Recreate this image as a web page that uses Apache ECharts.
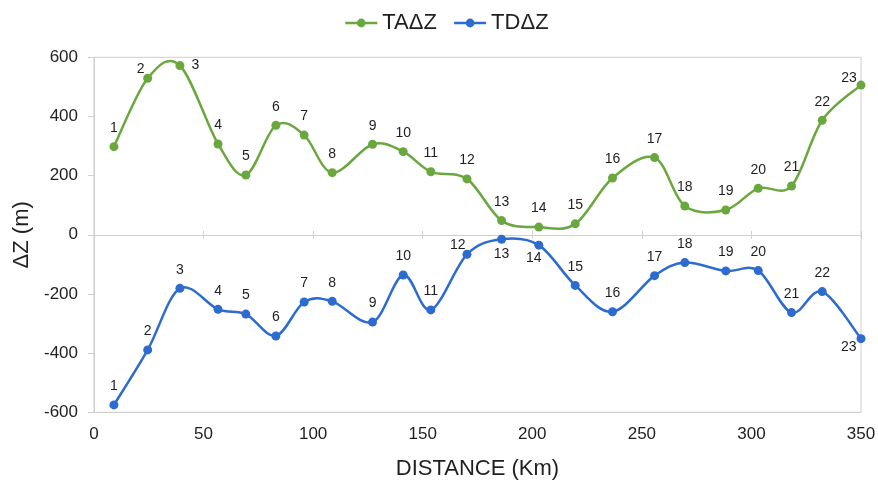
<!DOCTYPE html>
<html>
<head>
<meta charset="utf-8">
<script src="https://cdn.jsdelivr.net/npm/echarts@6/dist/echarts.min.js"></script>
<style>
  html, body { margin: 0; padding: 0; background: #ffffff; }
  #chart { width: 878px; height: 481px; }
</style>
</head>
<body>
<div id="chart"></div>
<script>
// Station numbers shown beside each point
const pointIds = [1, 2, 3, 4, 5, 6, 7, 8, 9, 10, 11, 12, 13, 14, 15, 16, 17, 18, 19, 20, 21, 22, 23];
// Distance along the profile (km)
const distanceKm = [9.1, 24.5, 39.2, 56.6, 69.3, 83.0, 95.9, 108.7, 127.1, 141.1, 153.7, 170.2,
                    186.0, 203.0, 219.6, 236.6, 255.8, 269.6, 288.3, 303.1, 318.3, 332.3, 350];
// TAΔZ (m)
const taDeltaZ = [298, 529, 572, 307, 202, 370, 337, 210, 306, 281, 213, 189,
                  48, 26, 37, 192, 261, 97, 84, 157, 165, 387, 506];
// TDΔZ (m)
const tdDeltaZ = [-575, -389, -181, -252, -268, -342, -227, -225, -295, -136, -254, -66,
                  -15, -35, -171, -260, -138, -94, -122, -121, -263, -192, -351];

const seriesNames = ['TAΔZ', 'TDΔZ'];
const seriesColors = ['#6aa83f', '#2d6bcf'];

// Label placement tweaks for crowded points (by station number)
const taLabelTweaks = {
  2: { offset: [-7, 9] },
  3: { position: 'right', distance: 7 },
  23: { offset: [-12, 12] }
};
const tdLabelTweaks = {
  12: { position: 'left', distance: -3, offset: [0, -9] },
  13: { position: 'bottom', distance: 3 },
  14: { position: 'bottom', distance: 1, offset: [-5, 0] },
  23: { position: 'left', distance: 0, offset: [0, 9] }
};

const FONT = '"Liberation Sans", Arial, sans-serif';
const AXIS_GRAY = '#cfcfcf';
const TEXT = '#1f1f1f';
const LINE_WIDTH = 2.5;

function buildData(values, tweaks) {
  return distanceKm.map((x, i) => {
    const item = { value: [x, values[i]] };
    const t = tweaks[pointIds[i]];
    if (t) item.label = t;
    return item;
  });
}

// Markers + station labels (the curve itself is drawn by the custom series below)
function markerSeries(idx, values, tweaks) {
  return {
    name: seriesNames[idx],
    type: 'line',
    xAxisIndex: 0,
    yAxisIndex: 0,
    symbol: 'circle',
    symbolSize: 9,
    color: seriesColors[idx],
    lineStyle: { width: LINE_WIDTH, color: seriesColors[idx], opacity: 0 },
    itemStyle: { color: seriesColors[idx] },
    label: {
      show: true,
      position: 'top',
      distance: 7,
      color: TEXT,
      fontSize: 14,
      fontFamily: FONT,
      formatter: p => String(pointIds[p.dataIndex])
    },
    data: buildData(values, tweaks),
    z: 3
  };
}

// Cardinal (Catmull-Rom) spline through the points, mapped through the axes
function curveSeries(idx, values) {
  return {
    type: 'custom',
    xAxisIndex: 0,
    yAxisIndex: 0,
    silent: true,
    z: 2,
    encode: { x: 0, y: 1 },
    data: distanceKm.map((x, i) => [x, values[i]]),
    renderItem: function (params, api) {
      if (params.dataIndex !== 0) return null;
      const pts = distanceKm.map((x, i) => api.coord([x, values[i]]));
      const n = pts.length;
      let d = 'M' + pts[0][0] + ' ' + pts[0][1];
      for (let i = 0; i < n - 1; i++) {
        const p0 = pts[Math.max(i - 1, 0)];
        const p1 = pts[i];
        const p2 = pts[i + 1];
        const p3 = pts[Math.min(i + 2, n - 1)];
        const c1x = p1[0] + (p2[0] - p0[0]) / 6;
        const c1y = p1[1] + (p2[1] - p0[1]) / 6;
        const c2x = p2[0] - (p3[0] - p1[0]) / 6;
        const c2y = p2[1] - (p3[1] - p1[1]) / 6;
        d += ' C' + c1x + ' ' + c1y + ' ' + c2x + ' ' + c2y + ' ' + p2[0] + ' ' + p2[1];
      }
      return {
        type: 'path',
        shape: { pathData: d },
        style: { stroke: seriesColors[idx], lineWidth: LINE_WIDTH, fill: 'none', lineJoin: 'round' }
      };
    }
  };
}

// Zero-line axis pieces: ticks crossing the horizontal line at ΔZ = 0
function zeroAxis(inside) {
  return {
    type: 'value',
    min: 0, max: 350, interval: 50,
    position: 'bottom',
    axisLine: { show: true, onZero: true, onZeroAxisIndex: 0, lineStyle: { color: AXIS_GRAY, width: 1 } },
    axisTick: { show: true, inside: inside, length: 4, lineStyle: { color: AXIS_GRAY, width: 1 } },
    axisLabel: { show: false },
    splitLine: { show: false }
  };
}

const chart = echarts.init(document.getElementById('chart'), null, { renderer: 'canvas' });

chart.setOption({
  animation: false,
  backgroundColor: '#ffffff',
  textStyle: { fontFamily: FONT },
  legend: {
    top: 7,
    left: 339,
    itemWidth: 32,
    itemHeight: 11,
    itemGap: 16,
    textStyle: { fontSize: 22, color: TEXT, fontFamily: FONT },
    lineStyle: { width: LINE_WIDTH, opacity: 1 },
    data: seriesNames
  },
  grid: {
    left: 94, right: 17, top: 57.3, bottom: 68.7,
    show: true,
    borderColor: AXIS_GRAY,
    borderWidth: 1,
    containLabel: false,
    outerBoundsMode: 'none'
  },
  xAxis: [
    {
      type: 'value',
      min: 0, max: 350, interval: 50,
      position: 'bottom',
      name: 'DISTANCE (Km)',
      nameLocation: 'middle',
      nameGap: 46,
      nameTextStyle: { fontSize: 22, color: TEXT, fontFamily: FONT },
      axisLine: { show: true, onZero: false, lineStyle: { color: AXIS_GRAY } },
      axisTick: { show: false },
      axisLabel: { fontSize: 17, color: TEXT, margin: 14, fontFamily: FONT },
      splitLine: { show: false }
    },
    zeroAxis(true),
    zeroAxis(false)
  ],
  yAxis: {
    type: 'value',
    min: -600, max: 600, interval: 200,
    name: 'ΔZ (m)',
    nameLocation: 'middle',
    nameGap: 56,
    nameRotate: 90,
    nameTextStyle: { fontSize: 22, color: TEXT, fontFamily: FONT },
    axisLine: { show: true, onZero: false, lineStyle: { color: AXIS_GRAY } },
    axisTick: { show: true, length: 6, lineStyle: { color: AXIS_GRAY } },
    axisLabel: { fontSize: 17, color: TEXT, margin: 16, fontFamily: FONT },
    splitLine: { show: false }
  },
  series: [
    curveSeries(0, taDeltaZ),
    curveSeries(1, tdDeltaZ),
    markerSeries(0, taDeltaZ, taLabelTweaks),
    markerSeries(1, tdDeltaZ, tdLabelTweaks)
  ]
});
</script>
</body>
</html>
